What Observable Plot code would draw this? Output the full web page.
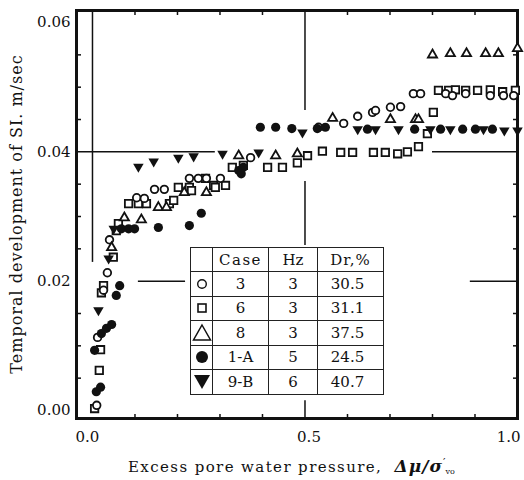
<!DOCTYPE html>
<html><head><meta charset="utf-8">
<script src="https://cdn.jsdelivr.net/npm/d3@7"></script>
<script src="https://cdn.jsdelivr.net/npm/@observablehq/plot@0.6"></script>
<style>
body{margin:0;background:#fff;}
#wrap{position:relative;width:524px;height:480px;overflow:hidden;background:#fff;}
#legend{position:absolute;left:190px;top:247px;border-collapse:collapse;background:#fff;font-family:"DejaVu Serif",serif;font-size:15px;color:#111;}
#legend td{border:1.5px solid #222;padding:0;text-align:center;height:23px;line-height:20px;}
#legend td svg{display:block;margin:auto;}
</style></head><body><div id="wrap"></div>
<script>
// ---- data (x = Δu/σ'vo, y = SI m/sec) ----
const case3 = [[0.010,0.0008],[0.012,0.0113],[0.026,0.0186],[0.035,0.0213],[0.040,0.0264],[0.104,0.0329],[0.122,0.0328],[0.146,0.0342],[0.169,0.0342],[0.228,0.0359],[0.249,0.0359],[0.268,0.0359],[0.301,0.0359],[0.372,0.0391],[0.532,0.0438],[0.591,0.0444],[0.624,0.0455],[0.659,0.0461],[0.666,0.0464],[0.701,0.0469],[0.725,0.0470],[0.755,0.0490],[0.772,0.0490],[0.831,0.0490],[0.847,0.0487],[0.878,0.0490],[0.936,0.0487],[0.967,0.0487],[0.991,0.0487]];
const case6 = [[0.005,0.0003],[0.016,0.0062],[0.019,0.0094],[0.021,0.0182],[0.026,0.0193],[0.049,0.0237],[0.056,0.0278],[0.061,0.0289],[0.085,0.0320],[0.108,0.0320],[0.127,0.0320],[0.181,0.0320],[0.191,0.0325],[0.202,0.0345],[0.228,0.0345],[0.233,0.0340],[0.266,0.0359],[0.285,0.0348],[0.289,0.0345],[0.313,0.0348],[0.329,0.0376],[0.355,0.0379],[0.412,0.0376],[0.447,0.0376],[0.482,0.0383],[0.506,0.0394],[0.541,0.0401],[0.584,0.0399],[0.612,0.0399],[0.661,0.0399],[0.689,0.0399],[0.718,0.0397],[0.741,0.0400],[0.767,0.0408],[0.788,0.0428],[0.802,0.0461],[0.814,0.0495],[0.838,0.0495],[0.854,0.0496],[0.878,0.0495],[0.906,0.0495],[0.936,0.0496],[0.965,0.0493],[0.995,0.0495]];
const case8 = [[0.045,0.0252],[0.075,0.0298],[0.115,0.0295],[0.155,0.0314],[0.174,0.0314],[0.216,0.0337],[0.268,0.0337],[0.344,0.0394],[0.431,0.0394],[0.482,0.0397],[0.565,0.0452],[0.701,0.0450],[0.760,0.0450],[0.767,0.0450],[0.800,0.0550],[0.842,0.0552],[0.880,0.0552],[0.925,0.0552],[0.955,0.0552],[1.000,0.0560]];
const case1A = [[0.009,0.0029],[0.019,0.0036],[0.005,0.0093],[0.021,0.0119],[0.033,0.0127],[0.045,0.0133],[0.056,0.0178],[0.064,0.0193],[0.068,0.0281],[0.085,0.0281],[0.099,0.0281],[0.155,0.0283],[0.228,0.0286],[0.256,0.0305],[0.344,0.0371],[0.355,0.0376],[0.350,0.0366],[0.395,0.0438],[0.431,0.0438],[0.469,0.0436],[0.529,0.0436],[0.548,0.0438],[0.647,0.0435],[0.758,0.0435],[0.819,0.0435],[0.871,0.0435],[0.901,0.0435],[0.941,0.0435]];
const case9B = [[0.014,0.0155],[0.038,0.0235],[0.050,0.0281],[0.108,0.0377],[0.144,0.0385],[0.202,0.0391],[0.238,0.0393],[0.306,0.0397],[0.391,0.0399],[0.494,0.0430],[0.624,0.0435],[0.666,0.0435],[0.720,0.0435],[0.795,0.0435],[0.842,0.0435],[0.920,0.0435],[0.969,0.0433],[1.000,0.0433]];

const xTicks = [0, 0.5, 1.0];
const yTicks = [0, 0.02, 0.04, 0.06];
const xMinor = [0.1,0.2,0.3,0.4,0.6,0.7,0.8,0.9];
const yMinor = [0.005,0.01,0.015,0.025,0.03,0.035,0.045,0.05,0.055];

// partial cross-hair grid lines of the original figure
const gridH = [{y:0.04,x1:-0.0376,x2:0.289},{y:0.04,x1:0.80,x2:1.0},{y:0.02,x1:0.108,x2:0.219},{y:0.02,x1:0.889,x2:1.0}];
const gridV = [{x:0.5,y1:0.0619,y2:0.0464},{x:0.5,y1:0.0354,y2:0.0255},{x:0.5,y1:0.0015,y2:-0.0012},{x:0,y1:0.0619,y2:0.0229}];

// legend table
const legCase = ["3","6","8","1-A","9-B"];
const legHz = ["3","3","3","5","6"];
const legDr = ["30.5","31.1","37.5","24.5","40.7"];
const legSym = ["circle","square","triangle","dot","tridown"];

const triangleDown = {
  draw(context, size) {
    const s3 = Math.sqrt(3);
    const y = -Math.sqrt(size / (s3 * 3));
    context.moveTo(0, -y * 2);
    context.lineTo(-s3 * y, y);
    context.lineTo(s3 * y, y);
    context.closePath();
  }
};

const xy = {x: d => d[0], y: d => d[1]};
const fmtX = d3.format(".1f");
const chart = Plot.plot({
  width: 524, height: 480,
  marginLeft: 76, marginRight: 7, marginTop: 10, marginBottom: 62,
  x: {domain: [-0.0376, 1.0]},
  y: {domain: [-0.00124, 0.06186]},
  style: {fontFamily: "'DejaVu Serif', serif", fontSize: "15px", color: "#111", background: "white", overflow: "visible"},
  marks: [
    Plot.ruleY(gridH, {y: "y", x1: "x1", x2: "x2", stroke: "#111", strokeWidth: 1.5}),
    Plot.ruleX(gridV, {x: "x", y1: "y1", y2: "y2", stroke: "#111", strokeWidth: 1.5}),
    Plot.axisY(yMinor, {anchor: "left", tickSize: -5, tickFormat: () => "", strokeWidth: 1.5, label: null}),
    Plot.axisY(yMinor, {anchor: "right", tickSize: -5, tickFormat: () => "", strokeWidth: 1.5, label: null}),
    Plot.axisX(xMinor, {anchor: "bottom", tickSize: -4, tickFormat: () => "", strokeWidth: 1.5, label: null}),
    Plot.axisX(xMinor, {anchor: "top", tickSize: -4, tickFormat: () => "", strokeWidth: 1.5, label: null}),
    Plot.axisY(yTicks, {anchor: "left", tickSize: 0, tickPadding: 6, tickFormat: d3.format(".2f"), label: null}),
    Plot.axisX(xTicks.slice(0, 1), {anchor: "bottom", tickSize: 0, tickPadding: 13, dx: -5, tickFormat: fmtX, label: null}),
    Plot.axisX(xTicks.slice(1, 2), {anchor: "bottom", tickSize: 0, tickPadding: 13, dx: 4, tickFormat: fmtX, label: null}),
    Plot.axisX(xTicks.slice(2), {anchor: "bottom", tickSize: 0, tickPadding: 13, dx: 3, textAnchor: "end", tickFormat: fmtX, label: null}),
    Plot.frame({stroke: "#111", strokeWidth: 3}),
    Plot.dot(case6, {...xy, symbol: "square", r: 4.2, stroke: "#111", fill: "white", strokeWidth: 1.8}),
    Plot.dot(case3, {...xy, symbol: "circle", r: 3.8, stroke: "#111", fill: "white", strokeWidth: 1.8}),
    Plot.dot(case8, {...xy, symbol: "triangle", r: 3.4, stroke: "#111", fill: "white", strokeWidth: 1.8}),
    Plot.dot(case1A, {...xy, symbol: "circle", r: 4.6, fill: "#111", stroke: "none"}),
    Plot.dot(case9B, {...xy, symbol: triangleDown, r: 3.9, fill: "#111", stroke: "none"})
  ]
});
const wrap = document.getElementById("wrap");
wrap.appendChild(chart);

// axis titles
const svg = d3.select(chart);
svg.append("text")
  .attr("transform", "translate(22,214) rotate(-90)")
  .attr("text-anchor", "middle")
  .style("font-family", "'DejaVu Serif', serif").style("font-size", "16px").style("letter-spacing", "1px")
  .attr("fill", "#111")
  .text("Temporal development of SI. m/sec");
const xt = svg.append("text")
  .attr("x", 128).attr("y", 472)
  .attr("text-anchor", "start")
  .style("font-family", "'DejaVu Serif', serif").style("font-size", "15px")
  .attr("fill", "#111");
xt.append("tspan").style("letter-spacing", "1.4px").text("Excess pore water pressure,  ");
xt.append("tspan").style("font-weight", "bold").style("font-style", "italic").style("font-size", "17px").style("letter-spacing", "1px").text("Δμ/σ");
xt.append("tspan").style("font-size", "11px").attr("dy", -6).text("′");
xt.append("tspan").style("font-size", "8px").attr("dy", 8).text("vo");

// legend table
function symSvg(kind) {
  const w = 20, h = 22;
  let inner = "";
  if (kind === "circle") inner = `<circle cx="10" cy="11" r="4.3" fill="white" stroke="#111" stroke-width="1.4"/>`;
  if (kind === "square") inner = `<rect x="6" y="7" width="8" height="8" fill="white" stroke="#111" stroke-width="1.6"/>`;
  if (kind === "triangle") inner = `<path d="M10,3 L18.5,18 L1.5,18 Z" fill="white" stroke="#111" stroke-width="1.5"/>`;
  if (kind === "dot") inner = `<circle cx="10" cy="11" r="6" fill="#111"/>`;
  if (kind === "tridown") inner = `<path d="M2,4 L18,4 L10,18 Z" fill="#111"/>`;
  return `<svg width="${w}" height="${h}">${inner}</svg>`;
}
const table = d3.select(wrap).append("table").attr("id", "legend");
const head = table.append("tr");
head.append("td").style("width", "21px").style("height", "22px");
head.append("td").style("width", "55px").style("letter-spacing", "1.5px").text("Case");
head.append("td").style("width", "48px").text("Hz");
head.append("td").style("width", "65px").style("letter-spacing", "1px").text("Dr,%");
legCase.forEach((c, i) => {
  const tr = table.append("tr");
  tr.append("td").style("height", "23.5px").html(symSvg(legSym[i]));
  tr.append("td").text(c);
  tr.append("td").text(legHz[i]);
  tr.append("td").style("padding-right", "6px").text(legDr[i]);
});
</script>
</body></html>
